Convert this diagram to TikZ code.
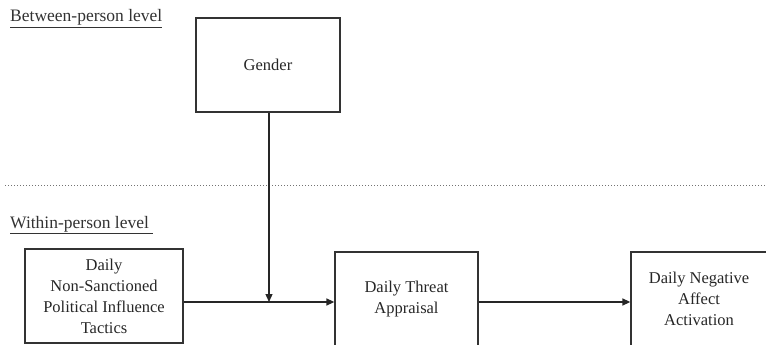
\documentclass[tikz,border=0pt]{standalone}
\usepackage{fontspec}
\setmainfont{Liberation Serif}
\usetikzlibrary{arrows.meta}
\begin{document}
\begin{tikzpicture}[x=1pt,y=-1pt,
  box/.style={draw=black!80,line width=1.3pt,align=center,font=\fontsize{16.5}{21}\selectfont,text=black!85,inner sep=0pt},
  conn/.style={draw=black!85,line width=1.3pt,-{Triangle[length=8pt,width=7pt]}},
  lbl/.style={anchor=base west,font=\fontsize{17.5}{20}\selectfont,text=black!80,inner sep=0pt}]
\useasboundingbox (0,0) rectangle (766,345);
\clip (0,0) rectangle (766,345);
\node[lbl] (between) at (10,22) {\underline{Between-person level}};
\node[lbl] (within) at (10,228) {\underline{Within-person level\ }};
\draw[black!55,line width=1pt,dotted] (5,185) -- (766,185);
\node[box,minimum width=144pt,minimum height=94pt] (gender) at (268,65) {Gender};
\node[box,minimum width=158pt,minimum height=94pt] (tactics) at (104,296) {Daily\\Non-Sanctioned\\Political Influence\\Tactics};
\node[box,minimum width=143pt,minimum height=94pt] (threat) at (406.5,299) {Daily Threat\\Appraisal};
\node[box,minimum width=144pt,minimum height=96pt] (affect) at (703,300) {};
\node[align=center,font=\fontsize{16.5}{21}\selectfont,text=black!85,inner sep=0pt] (affecttext) at (699,299) {Daily Negative\\Affect\\Activation};
\coordinate (meet) at (269,302);
\draw[conn] (tactics.east |- meet) -- (threat.west |- meet);
\draw[conn] (gender.south -| meet) -- (meet);
\draw[conn] (threat.east |- meet) -- (affect.west |- meet);
\end{tikzpicture}
\end{document}
